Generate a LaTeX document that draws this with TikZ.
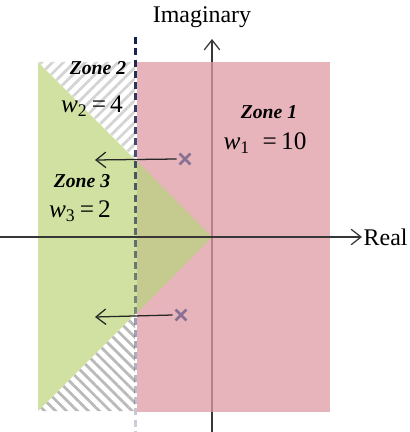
\documentclass[tikz,border=0pt]{standalone}
\usepackage{fontspec}
\setmainfont{Liberation Serif}
\usetikzlibrary{patterns.meta,shapes.misc,fadings,arrows.meta}

\definecolor{zonepink}{RGB}{222,155,163}
\definecolor{zonegreen}{RGB}{209,225,162}
\definecolor{zoneolive}{RGB}{197,202,142}
\definecolor{hatchlight}{RGB}{212,212,212}
\definecolor{hatchdark}{RGB}{186,186,186}
\definecolor{polecol}{RGB}{135,112,145}
\definecolor{bndnavy}{RGB}{18,30,75}
\definecolor{axisgray}{RGB}{55,55,55}

\tikzfading[name=bndfade, top color=transparent!0, bottom color=transparent!80]

\newcommand{\wgt}[2]{\textit{w}\textsubscript{#1}\,=\,#2}

\tikzset{
  axisline/.style={draw=axisgray, line width=0.9pt, -{Straight Barb[length=7pt,width=11pt]}},
  movearrow/.style={draw=black!85, line width=0.9pt, -{Straight Barb[length=7pt,width=11pt]}},
  bndline/.style={draw=bndnavy, line width=1.6pt, dash pattern=on 5pt off 3pt},
  pole/.style={cross out, draw=polecol, line width=1.8pt, minimum size=6pt, inner sep=0pt},
  zonetitle/.style={font=\fontsize{14}{16}\selectfont\bfseries\itshape},
  weight/.style={font=\fontsize{18}{20}\selectfont},
  axislabel/.style={font=\fontsize{17}{19}\selectfont}
}

\begin{document}
\begin{tikzpicture}[x=0.025cm, y=-0.025cm]

  \useasboundingbox (0,0) rectangle (409,432);

  % axis points
  \coordinate (o) at (212,237);
  \coordinate (xl) at (0,237);
  \coordinate (xr) at (362,237);
  \coordinate (yb) at (212,432);
  \coordinate (yt) at (212,39);

  % vertical axis first, pink is laid over it
  \draw[axisline] (yb) -- (yt);

  % hatched parts left of the boundary
  \fill[pattern={Lines[angle=45,distance=5.5pt,line width=2pt]}, pattern color=hatchlight]
    (38,62) -- (135,62) -- (135,159) -- cycle;
  \fill[pattern={Lines[angle=-45,distance=5.5pt,line width=2pt]}, pattern color=hatchdark]
    (38,411) -- (135,314) -- (135,411) -- cycle;

  % zones
  \fill[zonegreen] (38,62) -- (o) -- (38,411) -- cycle;
  \fill[zonepink, fill opacity=0.75] (137,62) rectangle (330,412);
  \fill[zoneolive] (137,161) -- (o) -- (137,313) -- cycle;

  % boundary
  \coordinate (dt) at (135.5,37);
  \coordinate (db) at (135.5,432);
  \draw[bndline, path fading=bndfade] (dt) -- (db);

  % horizontal axis
  \draw[axisline] (xl) -- (xr);

  \node[axislabel, anchor=west, inner sep=1pt] (re) at (xr) {Real};
  \node[axislabel] (im) at (202,17) {Imaginary};

  % poles and their shift
  \node[pole] (p1) at (185,159) {};
  \node[pole] (p2) at (181,315) {};
  \coordinate (t1) at (95,160);
  \coordinate (t2) at (95,317);
  \draw[movearrow] (p1.west) ++(-2pt,0) -- (t1);
  \draw[movearrow] (p2.west) ++(-2pt,0) -- (t2);

  % labels
  \node[zonetitle] (z1) at (269,112) {Zone 1};
  \node[weight] (w1) at (265,143) {\textit{w}\textsubscript{1}\enspace=\,10};
  \node[zonetitle] (z2) at (98,68) {Zone 2};
  \node[weight] (w2) at (92,106) {\wgt{2}{4}};
  \node[zonetitle] (z3) at (82,181) {Zone 3};
  \node[weight] (w3) at (80,211) {\wgt{3}{2}};

\end{tikzpicture}
\end{document}
